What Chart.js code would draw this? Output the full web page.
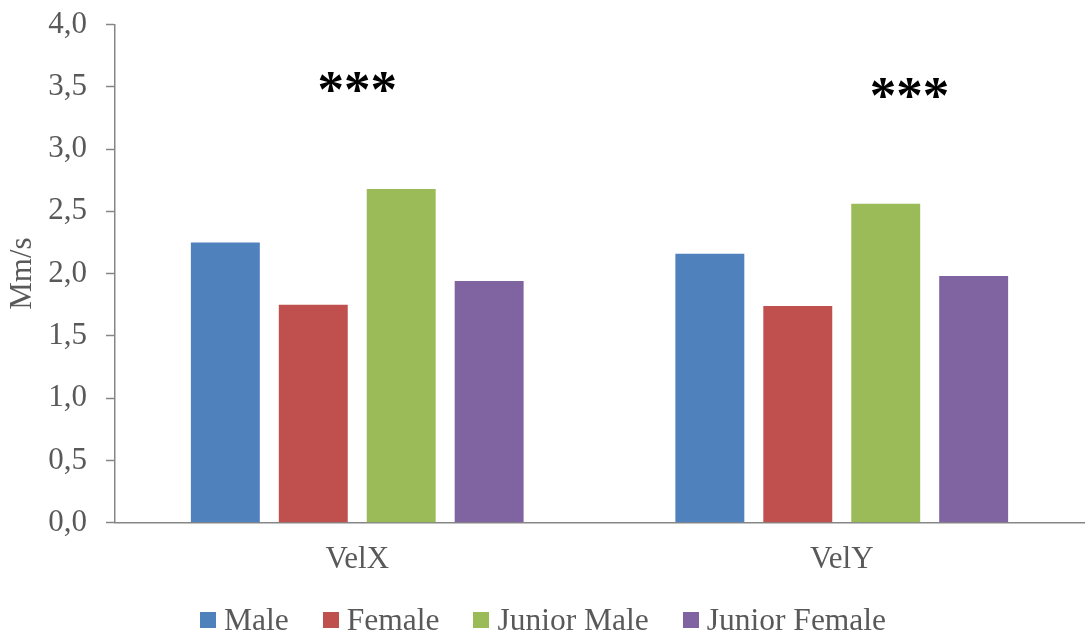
<!DOCTYPE html>
<html>
<head>
<meta charset="utf-8">
<title>VelX / VelY</title>
<script src="https://cdn.jsdelivr.net/npm/chart.js@4.4.0/dist/chart.umd.min.js"></script>
<style>
  html, body { margin: 0; padding: 0; background: #fff; }
  #wrap { position: relative; width: 1086px; height: 634px; }
  #legend {
    position: absolute; left: 0; top: 604px; width: 1086px;
    display: flex; justify-content: center; gap: 34px;
    font: 31.5px "Liberation Serif", "Times New Roman", serif;
    line-height: 31px; color: #595959;
  }
  #legend .item { display: flex; align-items: center; white-space: nowrap; }
  #legend .box { width: 16px; height: 16px; margin-right: 8px; }
</style>
</head>
<body>
<div id="wrap">
  <canvas id="chart" width="1086" height="634"></canvas>
  <div id="legend"></div>
</div>
<script>
const categories = ['VelX', 'VelY'];
const groupNames = ['Male', 'Female', 'Junior Male', 'Junior Female'];
const male = [2.25, 2.16];
const female = [1.75, 1.74];
const juniorMale = [2.68, 2.56];
const juniorFemale = [1.94, 1.98];
const groupColors = ['#4F81BD', '#C0504D', '#9BBB59', '#8064A2'];
const yTickValues = [0, 0.5, 1, 1.5, 2, 2.5, 3, 3.5, 4];

// significance stars: category index (may be fractional) and height in Mm/s
const sigLabels = ['***', '***'];
const sigAt = [0, 1.14];
const sigLevel = [3.54, 3.49];

const serif = '"Liberation Serif", "Times New Roman", serif';
const grey = '#595959';
const axisGrey = '#868686';

const seriesValues = [male, female, juniorMale, juniorFemale];

const sigPlugin = {
  id: 'sigStars',
  afterDatasetsDraw(chart) {
    const { ctx, scales: { x, y } } = chart;
    ctx.save();
    ctx.font = 'bold 53px ' + serif;
    ctx.fillStyle = '#000';
    ctx.textAlign = 'center';
    ctx.textBaseline = 'alphabetic';
    sigLabels.forEach((txt, i) => {
      const m = ctx.measureText(txt);
      const cy = y.getPixelForValue(sigLevel[i]);
      const base = cy + (m.actualBoundingBoxAscent - m.actualBoundingBoxDescent) / 2;
      ctx.fillText(txt, x.getPixelForValue(sigAt[i]), base);
    });
    ctx.restore();
  }
};

const chart = new Chart(document.getElementById('chart'), {
  type: 'bar',
  data: {
    labels: categories,
    datasets: groupNames.map((name, i) => ({
      label: name,
      data: seriesValues[i],
      backgroundColor: groupColors[i],
      borderWidth: 0
    }))
  },
  options: {
    responsive: false,
    animation: false,
    layout: { padding: { top: 24.5, right: 2, bottom: 36.3, left: 0 } },
    datasets: { bar: { barPercentage: 0.784, categoryPercentage: 0.726 } },
    plugins: {
      legend: { display: false },
      tooltip: { enabled: false }
    },
    scales: {
      x: {
        afterFit(scale) { scale.height = 75; },
        grid: { display: false },
        border: { display: true, color: axisGrey, width: 1.5 },
        ticks: { font: { family: serif, size: 31 }, color: grey, padding: 11 }
      },
      y: {
        min: 0,
        max: 4,
        afterFit(scale) {
          scale.width = 115;
          // let the end labels overhang instead of shrinking the plot
          scale.paddingTop = 0;
          scale.paddingBottom = 0;
        },
        afterBuildTicks(scale) { scale.ticks = yTickValues.map(v => ({ value: v })); },
        grid: { drawOnChartArea: false, tickLength: 9, tickColor: axisGrey, tickWidth: 1.5 },
        border: { display: true, color: axisGrey, width: 1.5 },
        ticks: {
          font: { family: serif, size: 31 },
          color: grey,
          padding: 19,
          callback: v => v.toFixed(1).replace('.', ',')
        },
        title: {
          display: true,
          text: 'Mm/s',
          font: { family: serif, size: 31 },
          color: grey,
          padding: { top: 4, bottom: 0 }
        }
      }
    }
  },
  plugins: [sigPlugin]
});

// legend below the plot, built from the chart's datasets
const legendEl = document.getElementById('legend');
chart.data.datasets.forEach(ds => {
  const item = document.createElement('span');
  item.className = 'item';
  const box = document.createElement('span');
  box.className = 'box';
  box.style.background = ds.backgroundColor;
  item.appendChild(box);
  item.appendChild(document.createTextNode(ds.label));
  legendEl.appendChild(item);
});
</script>
</body>
</html>
